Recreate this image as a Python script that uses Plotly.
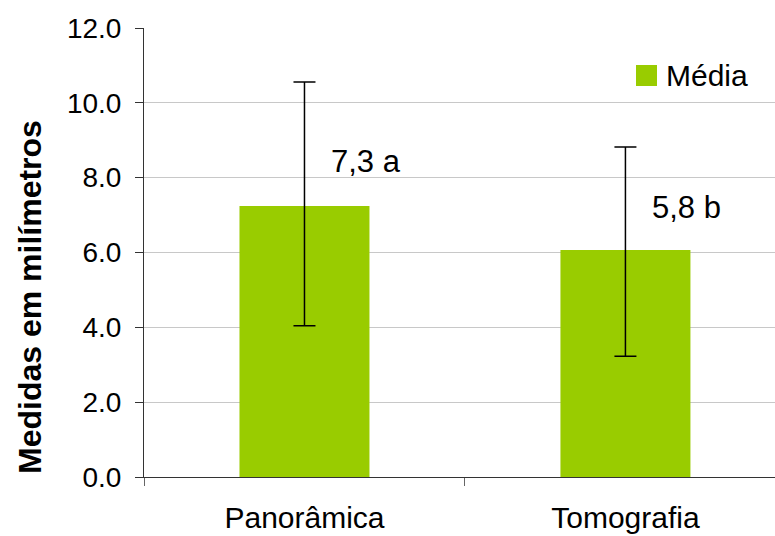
import plotly.graph_objects as go

categories = ["Panorâmica", "Tomografia"]
means = [7.24, 6.07]
err_plus = [3.32, 2.75]
err_minus = [3.20, 2.84]
labels = ["7,3 a", "5,8 b"]
label_y = [8.42, 7.19]
tick_vals = [0, 2, 4, 6, 8, 10, 12]
tick_text = ["0.0", "2.0", "4.0", "6.0", "8.0", "10.0", "12.0"]
series_name = "Média"
y_title = "Medidas em milímetros"

GREEN = "#99CC00"
FONT = "Liberation Sans, Arial, sans-serif"

fig = go.Figure()
fig.add_trace(go.Bar(
    x=categories, y=means, name=series_name,
    marker=dict(color=GREEN, line=dict(width=0)),
    width=0.405,
    error_y=dict(type="data", symmetric=False, array=err_plus, arrayminus=err_minus,
                 color="black", thickness=1.5, width=11),
    showlegend=False,
))

for c, t, yv in zip(categories, labels, label_y):
    fig.add_annotation(x=c, y=yv, text=t, showarrow=False, xanchor="left",
                       yanchor="middle", xshift=25,
                       font=dict(family=FONT, size=31, color="black"))

# legend
fig.add_shape(type="rect", xref="paper", yref="paper",
              x0=(636-144)/631, x1=(657-144)/631,
              y0=(477-86)/449, y1=(477-65)/449,
              fillcolor=GREEN, line=dict(width=0))
fig.add_annotation(xref="paper", yref="paper", x=(664-144)/631, y=(477-75)/449,
                   text=series_name, showarrow=False, xanchor="left", yanchor="middle",
                   font=dict(family=FONT, size=30, color="black"))

# y-axis title
fig.add_annotation(xref="paper", yref="paper", x=(30-144)/631, y=(477-297)/449,
                   text="<b>" + y_title + "</b>", showarrow=False, textangle=-90,
                   xanchor="center", yanchor="middle",
                   font=dict(family=FONT, size=32, color="black"))

fig.update_layout(
    width=775, height=536,
    margin=dict(l=144, r=0, t=28, b=59),
    paper_bgcolor="white", plot_bgcolor="white",
    font=dict(family=FONT, color="black"),
    xaxis=dict(
        type="category", range=[-0.5, 1.466], automargin=False,
        showline=True, linecolor="#333333", linewidth=1,
        ticks="outside", tickson="boundaries", ticklen=8, tickcolor="#666666",
        tickfont=dict(family=FONT, size=30, color="black"),
        ticklabelstandoff=14,
        showgrid=False, zeroline=False,
    ),
    yaxis=dict(
        range=[0, 12], tickvals=tick_vals, ticktext=tick_text, automargin=False,
        showline=True, linecolor="#333333", linewidth=1,
        ticks="outside", ticklen=8, tickcolor="#333333",
        tickfont=dict(family=FONT, size=28, color="black"),
        ticklabelstandoff=8,
        showgrid=True, gridcolor="#C8C8C8", gridwidth=1,
        zeroline=False,
    ),
)

fig.write_html("out.html", config={"displayModeBar": False},
               post_script="document.body.style.margin='0';document.body.style.overflow='hidden';")
